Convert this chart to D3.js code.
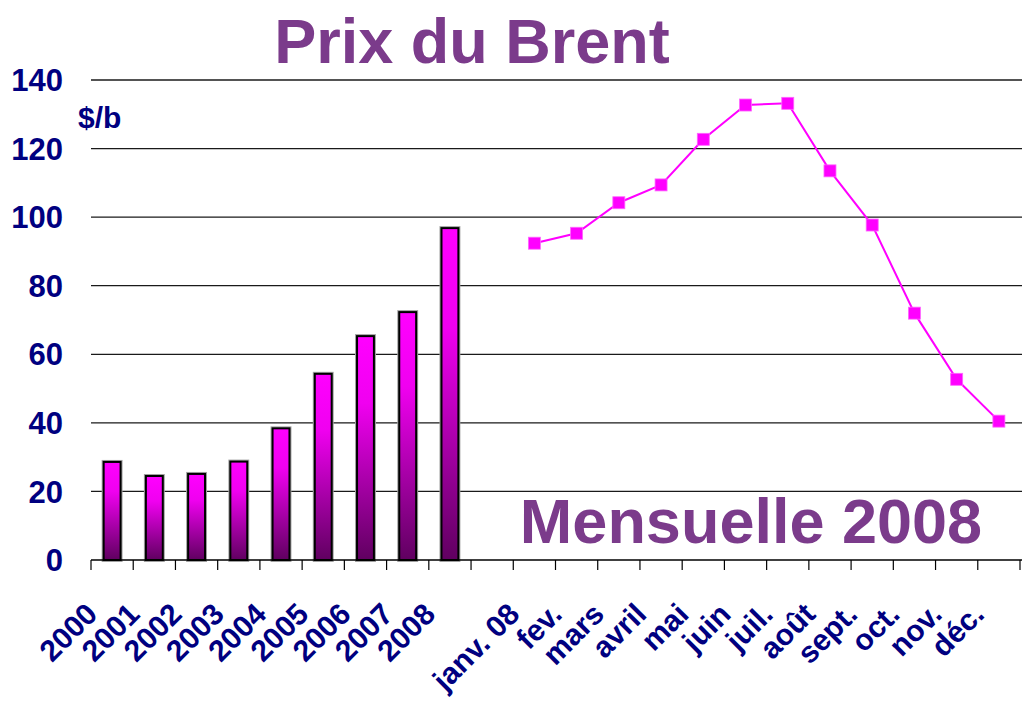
<!DOCTYPE html>
<html>
<head>
<meta charset="utf-8">
<script src="https://cdn.jsdelivr.net/npm/d3@7"></script>
<style>
  body { margin: 0; background: #fff; }
  text { font-family: "Liberation Sans", Arial, sans-serif; font-weight: bold; }
</style>
</head>
<body>
<div id="chart"></div>
<script>
const width = 1022;
const height = 701;

// yearly averages 2000-2008
const years = ["2000", "2001", "2002", "2003", "2004", "2005", "2006", "2007", "2008"];
const yearValues = [28.6, 24.5, 25.1, 28.7, 38.4, 54.3, 65.3, 72.3, 96.8];

// monthly 2008
const months = ["janv. 08", "fev.", "mars", "avril", "mai", "juin", "juil.", "août", "sept.", "oct.", "nov.", "déc."];
const monthValues = [92.4, 95.3, 104.2, 109.4, 122.7, 132.7, 133.2, 113.5, 97.7, 72.0, 52.7, 40.5];

const yTicks = [0, 20, 40, 60, 80, 100, 120, 140];

const navy = "#000080";
const purple = "#7b3b8b";
const magenta = "#ff00ff";

const svg = d3.select("#chart")
  .append("svg")
  .attr("width", width)
  .attr("height", height);

// one empty slot between the years and the months
const categories = years.concat(["_gap"], months);

const x = d3.scaleBand()
  .domain(categories)
  .range([91, 1020])
  .padding(0);

const y = d3.scaleLinear()
  .domain([0, 140])
  .range([560, 80]);

// gradient for the bars
const defs = svg.append("defs");
const grad = defs.append("linearGradient")
  .attr("id", "barGrad")
  .attr("x1", 0).attr("y1", 0)
  .attr("x2", 0).attr("y2", 1);
grad.append("stop").attr("offset", "0%").attr("stop-color", "#ff00ff");
grad.append("stop").attr("offset", "30%").attr("stop-color", "#f000f0");
grad.append("stop").attr("offset", "100%").attr("stop-color", "#600060");

// gridlines
svg.append("g")
  .selectAll("line")
  .data(yTicks.filter(d => d > 0))
  .enter().append("line")
  .attr("x1", 91)
  .attr("x2", width)
  .attr("y1", d => y(d))
  .attr("y2", d => y(d))
  .attr("stroke", "#1a1a1a")
  .attr("stroke-width", 1.3);

// y tick labels
svg.append("g")
  .selectAll("text")
  .data(yTicks)
  .enter().append("text")
  .attr("x", 63)
  .attr("y", d => y(d))
  .attr("dy", "0.36em")
  .attr("text-anchor", "end")
  .attr("fill", navy)
  .style("font-size", "31px")
  .text(d => d);

svg.append("text")
  .attr("x", 78)
  .attr("y", 128)
  .attr("fill", navy)
  .style("font-size", "30px")
  .text("$/b");

// bars
const barW = x.bandwidth() * 0.4;
const bars = svg.append("g");

bars.selectAll("rect.halo")
  .data(years)
  .enter().append("rect")
  .attr("class", "halo")
  .attr("x", d => x(d) + (x.bandwidth() - barW) / 2)
  .attr("y", (d, i) => y(yearValues[i]))
  .attr("width", barW)
  .attr("height", (d, i) => y(0) - y(yearValues[i]))
  .attr("fill", "none")
  .attr("stroke", "#a0a0a0")
  .attr("stroke-width", 4);

bars.selectAll("rect.bar")
  .data(years)
  .enter().append("rect")
  .attr("class", "bar")
  .attr("x", d => x(d) + (x.bandwidth() - barW) / 2)
  .attr("y", (d, i) => y(yearValues[i]))
  .attr("width", barW)
  .attr("height", (d, i) => y(0) - y(yearValues[i]))
  .attr("fill", "url(#barGrad)")
  .attr("stroke", "#000")
  .attr("stroke-width", 2);

// x axis line and ticks
svg.append("line")
  .attr("x1", 91)
  .attr("x2", width)
  .attr("y1", y(0))
  .attr("y2", y(0))
  .attr("stroke", "#000")
  .attr("stroke-width", 1.5);

const tickPos = categories.map(d => x(d)).concat([x.range()[1]]);
svg.append("g")
  .selectAll("line")
  .data(tickPos)
  .enter().append("line")
  .attr("x1", d => d)
  .attr("x2", d => d)
  .attr("y1", y(0))
  .attr("y2", y(0) + 10)
  .attr("stroke", "#000")
  .attr("stroke-width", 1.2);

// x labels, rotated
svg.append("g")
  .selectAll("text")
  .data(years.concat(months))
  .enter().append("text")
  .attr("text-anchor", "end")
  .attr("transform", d => {
    const cx = x(d) + x.bandwidth() / 2 - 13;
    return `translate(${cx},616) rotate(-45)`;
  })
  .attr("fill", navy)
  .style("font-size", "30px")
  .text(d => d);

// monthly line
const line = d3.line()
  .x((d, i) => x(months[i]) + x.bandwidth() / 2)
  .y(d => y(d));

svg.append("path")
  .datum(monthValues)
  .attr("d", line)
  .attr("fill", "none")
  .attr("stroke", magenta)
  .attr("stroke-width", 2);

const mk = 12;
svg.append("g")
  .selectAll("rect")
  .data(monthValues)
  .enter().append("rect")
  .attr("x", (d, i) => x(months[i]) + x.bandwidth() / 2 - mk / 2)
  .attr("y", d => y(d) - mk / 2)
  .attr("width", mk)
  .attr("height", mk)
  .attr("fill", magenta)
  .attr("stroke", "#ff66ff")
  .attr("stroke-width", 0.8);

// titles
svg.append("text")
  .attr("x", 472)
  .attr("y", 63)
  .attr("text-anchor", "middle")
  .attr("fill", purple)
  .style("font-size", "63px")
  .text("Prix du Brent");

svg.append("text")
  .attr("x", 751)
  .attr("y", 543)
  .attr("text-anchor", "middle")
  .attr("fill", purple)
  .style("font-size", "63px")
  .text("Mensuelle 2008");
</script>
</body>
</html>
